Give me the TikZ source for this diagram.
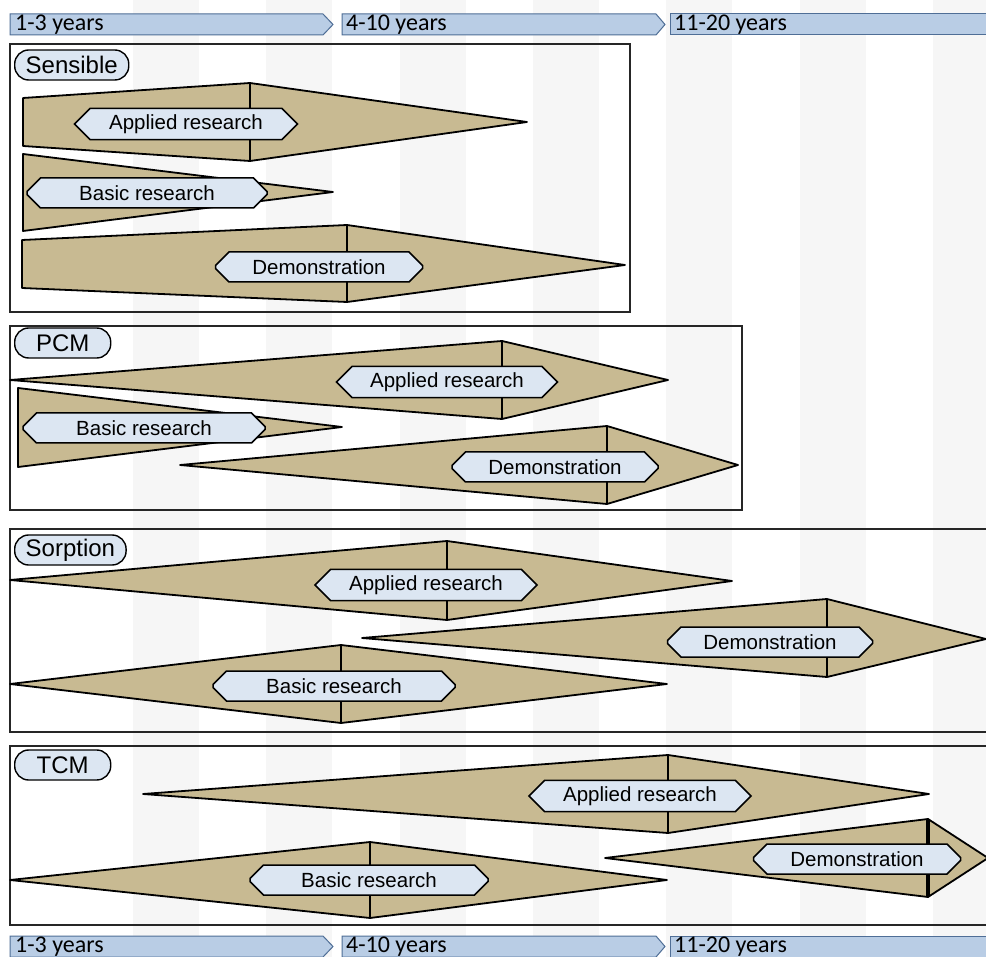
\documentclass[tikz,border=0pt]{standalone}
\usepackage{fontspec}
\setmainfont{Liberation Sans}
\newfontfamily\barfont{Carlito}
\usetikzlibrary{shapes.misc}

\definecolor{wedgetan}{RGB}{200,186,146}
\definecolor{capblue}{RGB}{220,230,242}
\definecolor{barblue}{RGB}{185,205,229}
\definecolor{baredge}{RGB}{79,110,150}
\definecolor{bandgray}{RGB}{246,246,246}

\tikzset{
  band/.style={fill=bandgray},
  panel/.style={draw=black!85, line width=1.3pt},
  wedge/.style={draw=black, fill=wedgetan, line width=1.8pt, line join=round},
  split/.style={draw=black, line width=2.4pt},
  phase/.style={chamfered rectangle, chamfered rectangle xsep=19pt,
    chamfered rectangle ysep=6pt, draw=black, fill=capblue, line width=1.5pt,
    minimum width=#1, minimum height=30pt, inner sep=0pt,
    font=\fontsize{20.5}{24}\selectfont},
  tag/.style={rectangle, rounded corners=14pt, draw=black, fill=capblue,
    line width=1.4pt, minimum width=96pt, minimum height=30pt, inner xsep=11pt,
    inner ysep=0pt, anchor=west, font=\fontsize{24}{28}\selectfont},
  yearbar/.style={draw=baredge, fill=barblue, line width=1pt},
  yeartext/.style={anchor=west, inner sep=0pt, font=\barfont\fontsize{24}{28}\selectfont}
}

\begin{document}
\begin{tikzpicture}[x=1pt, y=-1pt]
  \useasboundingbox (0,0) rectangle (986,957);
  \clip (0,0) rectangle (986,957);
  \fill[white] (0,0) rectangle (986,957);
  % faint background bands
  \foreach \i in {0,...,6}
    \fill[band] ({133+133.3*\i},0) rectangle ++(66,957);

  % year bars, top
  \draw[yearbar] (10,14) -- (323,14) -- (333,24.5) -- (323,35) -- (10,35) -- cycle;
  \draw[yearbar] (342,14) -- (656,14) -- (665,24.5) -- (656,35) -- (342,35) -- cycle;
  \draw[yearbar] (670,14) -- (990,14) -- (990,35) -- (670,35) -- cycle;
  \node[yeartext] (top1) at (15,25) {1-3 years};
  \node[yeartext] (top2) at (346,25) {4-10 years};
  \node[yeartext] (top3) at (674,25) {11-20 years};

  % Sensible
  \draw[panel] (10,44) rectangle (630,312);
  \node[tag] (sensible) at (14,65) {Sensible};
  \draw[wedge] (23,98) -- (250,83) -- (527,122) -- (250,161) -- (23,146) -- cycle;
  \draw[split] (250,83) -- (250,161);
  \draw[wedge] (23,154) -- (333,192) -- (23,231) -- cycle;
  \draw[wedge] (22,240) -- (347,225) -- (625,265) -- (347,302) -- (22,288) -- cycle;
  \draw[split] (347,225) -- (347,302);
  \node[phase=223pt] (sensapp) at (186,124) {Applied research};
  \node[phase=240pt] (sensbas) at (147,193) {Basic research};
  \node[phase=207pt] (sensdem) at (319,267) {Demonstration};

  % PCM
  \draw[panel] (10,326) rectangle (742,510);
  \node[tag] (pcm) at (14,343) {PCM};
  \draw[wedge] (10,380) -- (502,341) -- (668,380) -- (502,419) -- cycle;
  \draw[split] (502,341) -- (502,419);
  \draw[wedge] (18,388) -- (342,427) -- (18,467) -- cycle;
  \draw[wedge] (180,465) -- (607,426) -- (738,465) -- (607,504) -- cycle;
  \draw[split] (607,426) -- (607,504);
  \node[phase=221pt] (pcmapp) at (447,382) {Applied research};
  \node[phase=242pt] (pcmbas) at (144,428) {Basic research};
  \node[phase=206pt] (pcmdem) at (555,467) {Demonstration};

  % Sorption
  \draw[panel] (10,529) rectangle (995,732);
  \node[tag] (sorption) at (14,550) {Sorption};
  \draw[wedge] (10,580) -- (447,541) -- (732,581) -- (447,620) -- cycle;
  \draw[split] (447,541) -- (447,620);
  \draw[wedge] (362,638) -- (827,599) -- (986,639) -- (827,677) -- cycle;
  \draw[split] (827,599) -- (827,677);
  \draw[wedge] (10,684) -- (341,645) -- (667,684) -- (341,723) -- cycle;
  \draw[split] (341,645) -- (341,723);
  \node[phase=222pt] (sorapp) at (426,585) {Applied research};
  \node[phase=205pt] (sordem) at (770,642) {Demonstration};
  \node[phase=242pt] (sorbas) at (334,686) {Basic research};

  % TCM
  \draw[panel] (10,746) rectangle (995,925);
  \node[tag] (tcm) at (14,765) {TCM};
  \draw[wedge] (143,794) -- (668,755) -- (929,794) -- (668,833) -- cycle;
  \draw[split] (668,755) -- (668,833);
  \draw[wedge] (605,858) -- (928,819) -- (988,858) -- (928,897) -- cycle;
  \draw[split, line width=3.2pt] (928,819) -- (928,897);
  \draw[wedge] (10,880) -- (370,842) -- (667,880) -- (370,918) -- cycle;
  \draw[split] (370,842) -- (370,918);
  \node[phase=222pt] (tcmapp) at (640,796) {Applied research};
  \node[phase=207pt] (tcmdem) at (857,859) {Demonstration};
  \node[phase=238pt] (tcmbas) at (369,880) {Basic research};

  % year bars, bottom
  \draw[yearbar] (10,936) -- (323,936) -- (333,946.5) -- (323,957) -- (10,957) -- cycle;
  \draw[yearbar] (342,936) -- (656,936) -- (665,946.5) -- (656,957) -- (342,957) -- cycle;
  \draw[yearbar] (670,936) -- (990,936) -- (990,957) -- (670,957) -- cycle;
  \node[yeartext] (bot1) at (15,947) {1-3 years};
  \node[yeartext] (bot2) at (346,947) {4-10 years};
  \node[yeartext] (bot3) at (674,947) {11-20 years};
\end{tikzpicture}
\end{document}
